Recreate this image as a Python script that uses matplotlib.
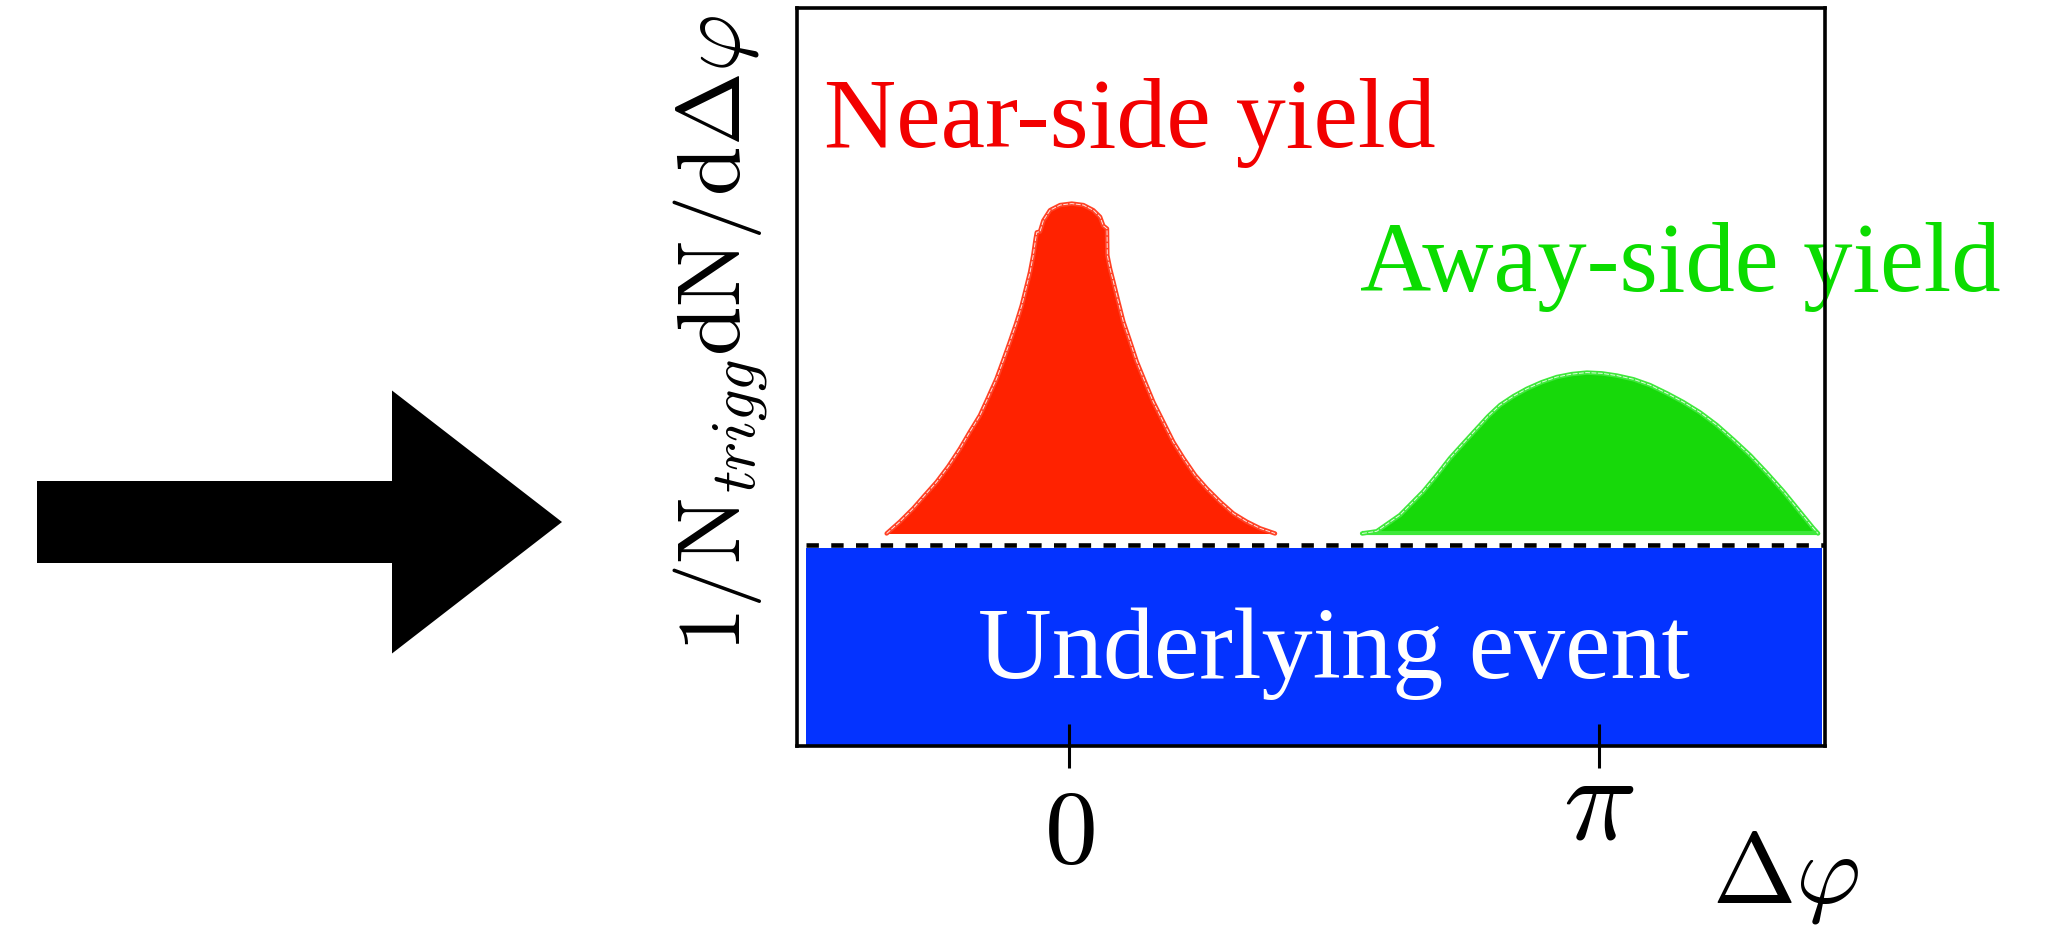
import numpy as np
import matplotlib
matplotlib.use("Agg")
import matplotlib.pyplot as plt
import matplotlib.transforms as mtransforms
from matplotlib.patches import FancyArrow

plt.rcParams["mathtext.fontset"] = "cm"

# ---- data: schematic di-hadron correlation components --------------------
# near-side peak outline (delta-phi in rad, per-trigger yield, arb. units)
near_dphi = [-1.081, -1.002, -0.923, -0.854, -0.784, -0.715, -0.646, -0.587,
             -0.528, -0.478, -0.429, -0.389, -0.350, -0.314, -0.280, -0.255,
             -0.231, -0.212, -0.198, -0.191, -0.172, -0.152, -0.113, -0.053,
             0.016, 0.085, 0.144, 0.184, 0.203, 0.225, 0.227, 0.243, 0.263,
             0.292, 0.322, 0.362, 0.401, 0.451, 0.500, 0.559, 0.618, 0.678,
             0.747, 0.816, 0.895, 0.974, 1.053, 1.132, 1.221]
near_yield = [2.88, 3.04, 3.22, 3.40, 3.58, 3.79, 4.03, 4.26,
              4.48, 4.73, 4.98, 5.23, 5.48, 5.72, 5.97, 6.20,
              6.42, 6.65, 6.87, 6.96, 6.97, 7.12, 7.26, 7.33,
              7.35, 7.33, 7.26, 7.17, 7.05, 7.01, 6.65, 6.47, 6.29,
              6.02, 5.75, 5.48, 5.21, 4.93, 4.66, 4.39, 4.12, 3.90,
              3.67, 3.49, 3.31, 3.15, 3.04, 2.95, 2.88]

# away-side peak outline
away_dphi = [1.737, 1.824, 1.893, 1.962, 2.031, 2.100, 2.180, 2.258, 2.337,
             2.417, 2.485, 2.555, 2.634, 2.713, 2.802, 2.891, 2.980, 3.069,
             3.158, 3.247, 3.345, 3.444, 3.543, 3.641, 3.740, 3.839, 3.938,
             4.037, 4.136, 4.234, 4.323, 4.412, 4.440]
away_yield = [2.88, 2.91, 3.02, 3.13, 3.29, 3.45, 3.67, 3.90, 4.10,
              4.30, 4.47, 4.62, 4.74, 4.84, 4.93, 5.00, 5.04, 5.06,
              5.05, 5.02, 4.97, 4.89, 4.78, 4.66, 4.52, 4.35, 4.15,
              3.94, 3.70, 3.45, 3.20, 2.95, 2.88]

peak_base = 2.88             # level the two jet peaks sit on
ue_level = 2.69              # underlying-event (pedestal) level
ue_line = 2.72               # dashed pedestal line
ue_dphi = [-1.559, 4.463]    # extent of the underlying-event band

xtick_pos = [0.0, np.pi]
xtick_labels = [r"$0$", r"$\pi$"]

near_label = "Near-side yield"
away_label = "Away-side yield"
ue_label = "Underlying event"
ylabel = r"$\mathrm{1/N}_{trigg}\mathrm{dN/d}\Delta\varphi$"
xlabel = r"$\Delta\varphi$"

# ---- colours ---------------------------------------------------------------
RED_FILL, RED_EDGE, RED_TEXT = "#ff2200", "#ff4125", "#f20000"
GREEN_FILL, GREEN_EDGE, GREEN_TEXT = "#17d90a", "#3ee83a", "#0bdc00"
BLUE = "#0433ff"
SERIF = ["Liberation Serif", "DejaVu Serif"]

fig = plt.figure(figsize=(20.58, 9.28), dpi=100)

# big black arrow on the left, drawn in a pixel-coordinate overlay
ov = fig.add_axes([0, 0, 1, 1])
ov.set_xlim(0, 2058)
ov.set_ylim(928, 0)
ov.axis("off")
ov.add_patch(FancyArrow(37, 523, 525, 0, width=82, head_width=263,
                        head_length=170, length_includes_head=True,
                        color="black", lw=0))

ax = fig.add_axes([0.3873, 0.1950, 0.4995, 0.7953])
ax.set_xlim(-1.612, 4.481)
ax.set_ylim(0, 10)

# underlying event band
ax.fill_between(ue_dphi, 0, ue_level, color=BLUE, lw=0, zorder=1)
ax.hlines(ue_line, ue_dphi[0], 4.481, colors="black", lw=3.3,
          linestyles=(0, (2.7, 2.7)), zorder=2)

# near-side peak
ax.fill_between(near_dphi, peak_base, near_yield, color=RED_FILL, lw=0, zorder=3)
ax.plot(near_dphi, near_yield, color=RED_EDGE, lw=3.2, zorder=4,
        solid_capstyle="round", solid_joinstyle="round")
ax.plot(near_dphi, near_yield, color="white", lw=0.7, alpha=0.85,
        dashes=(5, 1.5), zorder=5)

# away-side peak
ax.fill_between(away_dphi, peak_base, away_yield, color=GREEN_FILL, lw=0, zorder=3)
ax.plot(away_dphi, away_yield, color=GREEN_EDGE, lw=3.2, zorder=4,
        solid_capstyle="round", solid_joinstyle="round")
ax.plot(away_dphi, away_yield, color="white", lw=0.7, alpha=0.85,
        dashes=(5, 1.5), zorder=5)
ax.hlines(peak_base, away_dphi[0], away_dphi[-1], colors=GREEN_EDGE, lw=3,
          zorder=4)

# labels inside the frame
ax.text(0.026, 0.813, near_label, transform=ax.transAxes, ha="left",
        va="baseline", fontsize=72, color=RED_TEXT, family=SERIF, zorder=6)
ax.text(0.548, 0.618, away_label, transform=ax.transAxes, ha="left",
        va="baseline", fontsize=71, color=GREEN_TEXT, family=SERIF, zorder=6)
ax.text(0.176, 0.093, ue_label, transform=ax.transAxes, ha="left",
        va="baseline", fontsize=73.5, color="white", family=SERIF, zorder=6)

# axes styling
for s in ax.spines.values():
    s.set_linewidth(2.6)
    s.set_zorder(7)
ax.set_yticks([])
ax.set_xticks(xtick_pos)
ax.tick_params(axis="x", direction="inout", length=32, width=2.2,
               labelbottom=False)

# tick labels, placed on the tick positions below the frame
tick_trans = mtransforms.blended_transform_factory(ax.transData, ax.transAxes)
tick_styles = [dict(size=76, y=-0.157), dict(size=88, y=-0.1245)]
for pos, lab, st in zip(xtick_pos, xtick_labels, tick_styles):
    ax.text(pos, st["y"], lab, transform=tick_trans, ha="center",
            va="baseline", fontsize=st["size"], clip_on=False)

ax.set_ylabel(ylabel, fontsize=64)
ax.yaxis.set_label_coords(-0.026, 0.560)
ax.text(0.890, -0.211, xlabel, transform=ax.transAxes, ha="left",
        va="baseline", fontsize=72)

fig.savefig("out.png", dpi=100)
